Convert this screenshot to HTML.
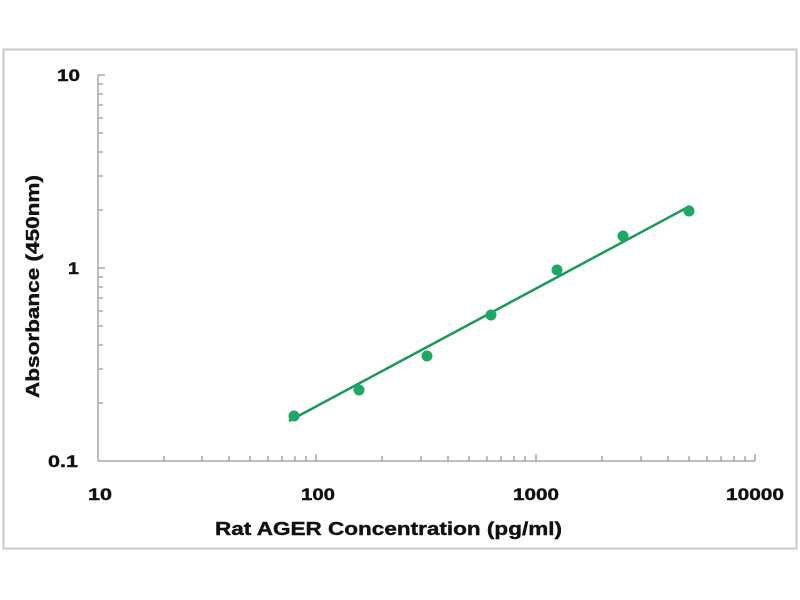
<!DOCTYPE html>
<html><head><meta charset="utf-8"><style>body{margin:0;background:#fff}svg{display:block}</style></head><body>
<svg width="800" height="600" xmlns="http://www.w3.org/2000/svg" font-family="Liberation Sans, Arial, sans-serif" font-weight="bold">
<rect x="3.5" y="49.5" width="793" height="499" fill="#fff" stroke="#c8c8c8" stroke-width="2"/>
<g stroke="#999" stroke-width="1.3" fill="none">
<line x1="98" y1="75" x2="98" y2="461"/>
<line x1="98" y1="461" x2="755" y2="461"/>
<path d="
M164 461v-5M202 461v-5M229 461v-5M250 461v-5M268 461v-5M282 461v-5M295 461v-5M306 461v-5M316 461v-7
M382 461v-5M421 461v-5M448 461v-5M469 461v-5M487 461v-5M501 461v-5M514 461v-5M525 461v-5M536 461v-7
M602 461v-5M641 461v-5M668 461v-5M689 461v-5M707 461v-5M721 461v-5M734 461v-5M745 461v-5M755 461v-7
M98 403h5M98 369h5M98 345h5M98 326h5M98 311h5M98 298h5M98 287h5M98 277h5M98 268h7
M98 210h5M98 176h5M98 152h5M98 133h5M98 118h5M98 105h5M98 94h5M98 84h5M98 75h7"/>
</g>
<line x1="289" y1="421" x2="690" y2="206" stroke="#1a9a5a" stroke-width="2.5"/>
<g fill="#1fa863">
<circle cx="294" cy="416" r="5.5"/><circle cx="359" cy="390" r="5.5"/><circle cx="427" cy="356" r="5.5"/>
<circle cx="491" cy="315" r="5.5"/><circle cx="557" cy="270" r="5.5"/><circle cx="623" cy="236" r="5.5"/>
<circle cx="689" cy="211" r="5.5"/></g>
<g font-size="17" fill="#111" stroke="#111" stroke-width="0.4">
<text x="57" y="81" textLength="23" lengthAdjust="spacingAndGlyphs">10</text>
<text x="68" y="274" textLength="11" lengthAdjust="spacingAndGlyphs">1</text>
<text x="48" y="467" textLength="30" lengthAdjust="spacingAndGlyphs">0.1</text>
<text x="88" y="500" textLength="24" lengthAdjust="spacingAndGlyphs">10</text>
<text x="301" y="500" textLength="34" lengthAdjust="spacingAndGlyphs">100</text>
<text x="513" y="500" textLength="46" lengthAdjust="spacingAndGlyphs">1000</text>
<text x="726" y="500" textLength="58" lengthAdjust="spacingAndGlyphs">10000</text>
</g>
<text x="215" y="535" textLength="347" lengthAdjust="spacingAndGlyphs" font-size="18" fill="#111" stroke="#111" stroke-width="0.4">Rat AGER Concentration (pg/ml)</text>
<text transform="translate(39,398) rotate(-90)" textLength="223" lengthAdjust="spacingAndGlyphs" font-size="18" fill="#111" stroke="#111" stroke-width="0.4">Absorbance (450nm)</text>
</svg>
</body></html>
